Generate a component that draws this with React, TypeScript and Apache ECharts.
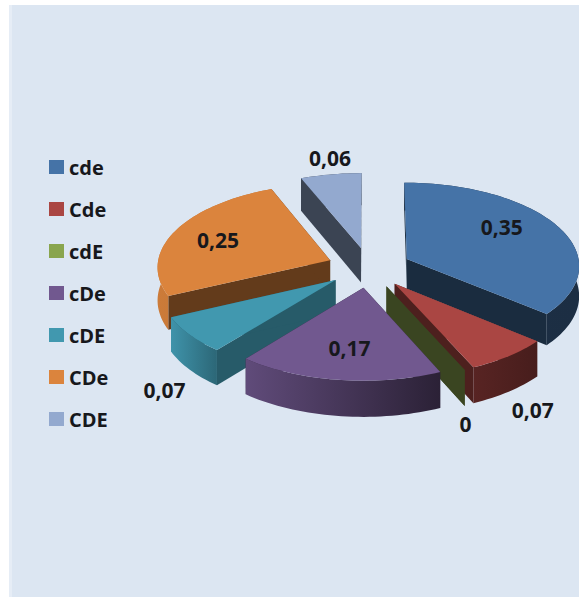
import React, { useEffect, useRef } from "react";
import * as echarts from "echarts";

// Genotype frequencies, in order around the pie.
const categories = ["cde", "Cde", "cdE", "cDe", "cDE", "CDe", "CDE"];
const values = [0.35, 0.07, 0, 0.17, 0.07, 0.25, 0.06];
const colors = ["#4573A7", "#AA4643", "#89A54E", "#71588F", "#4198AF", "#DB843D", "#93A9CF"];

// Back-to-front painting order of the exploded slices.
const paintOrder = [6, 0, 5, 1, 2, 4, 3];
// Brightness of the rim at its left and right end, and of the cut faces.
const rimShade = [[0.42, 0.4], [0.52, 0.42], [0.42, 0.42], [0.85, 0.38], [0.97, 0.68], [0.93, 0.85], [0.4, 0.4]];
const cutShade = [0.38, 0.45, 0.42, 0.4, 0.6, 0.45, 0.4];
// Extrusion height of each slice, in pixels.
const sliceDepth = [30, 33, 33, 33, 33, 33, 35];
// Value label offset from the slice apex, in pixels.
const labelOffsets = [[95, -32], [138, 126], [79, 138], [-14, 60], [-171, 110], [-112, -20], [-31, -90]];

const CX = 369;
const CY = 267.5;
const RADIUS = 173;
const EXPLODE = 42;
const TILT = 0.48;
const VIEW = 2400;

const total = values.reduce((a, b) => a + b, 0);
const startAngles: number[] = [];
values.reduce((acc, v, i) => {
  startAngles[i] = acc;
  return acc + (v / total) * Math.PI * 2;
}, 0);

// Ground-plane point to screen point, with a mild perspective.
function project(x: number, y: number, drop: number): number[] {
  const s = VIEW / (VIEW - y);
  return [CX + x * s, CY + TILT * y * s + drop * s];
}

function shade(hex: string, f: number): string {
  const n = parseInt(hex.slice(1), 16);
  const c = [(n >> 16) & 255, (n >> 8) & 255, n & 255].map((v) => Math.round(v * f));
  return `rgb(${c[0]},${c[1]},${c[2]})`;
}

function formatValue(v: number): string {
  return String(v).replace(".", ",");
}

function sliceRenderer(i: number) {
  return () => {
    const a0 = startAngles[i];
    const a1 = a0 + (values[i] / total) * Math.PI * 2;
    const mid = (a0 + a1) / 2;
    const ox = EXPLODE * Math.sin(mid);
    const oy = -EXPLODE * Math.cos(mid);
    const color = colors[i];
    const depth = sliceDepth[i];

    const top: number[][] = [];
    const bottom: number[][] = [];
    const steps = Math.max(1, Math.ceil((a1 - a0) / 0.03));
    for (let k = 0; k <= steps; k++) {
      const a = a0 + ((a1 - a0) * k) / steps;
      const gx = ox + RADIUS * Math.sin(a);
      const gy = oy - RADIUS * Math.cos(a);
      top.push(project(gx, gy, 0));
      bottom.push(project(gx, gy, depth));
    }
    const apexTop = project(ox, oy, 0);
    const apexBottom = project(ox, oy, depth);
    const cutFill = shade(color, cutShade[i]);
    const children: any[] = [];

    const cut = (edgeTop: number[], edgeBottom: number[]) => ({
      type: "polygon",
      silent: true,
      shape: { points: [apexTop, edgeTop, edgeBottom, apexBottom] },
      style: { fill: cutFill },
    });
    children.push(cut(top[0], bottom[0]));
    children.push(cut(top[steps], bottom[steps]));

    if (values[i] > 0) {
      children.push({
        type: "polygon",
        silent: true,
        shape: { points: [...top, ...bottom.slice().reverse()] },
        style: {
          fill: {
            type: "linear",
            x: 0,
            y: 0,
            x2: 1,
            y2: 0,
            colorStops: [
              { offset: 0, color: shade(color, rimShade[i][0]) },
              { offset: 1, color: shade(color, rimShade[i][1]) },
            ],
          },
        },
      });
      children.push({
        type: "polygon",
        silent: true,
        shape: { points: [apexTop, ...top] },
        style: { fill: color },
      });
    }

    children.push({
      type: "text",
      silent: true,
      z2: 100,
      style: {
        text: formatValue(values[i]),
        x: apexTop[0] + labelOffsets[i][0],
        y: apexTop[1] + labelOffsets[i][1],
        align: "center",
        verticalAlign: "middle",
        fill: "#17181c",
        font: "700 21px 'Open Sans'",
      },
    });
    return { type: "group", children };
  };
}

export default function App() {
  const ref = useRef<HTMLDivElement>(null);

  useEffect(() => {
    document.body.style.margin = "0";
    const chart = echarts.init(ref.current!, undefined, { renderer: "svg" });
    chart.setOption({
      animation: false,
      backgroundColor: "#ffffff",
      color: colors,
      graphic: [
        { type: "rect", z: -10, silent: true, shape: { x: 9, y: 5, width: 570, height: 592 }, style: { fill: "#DCE6F2" } },
        { type: "rect", z: -9, silent: true, shape: { x: 9, y: 5, width: 3, height: 592 }, style: { fill: "#E6EDF6" } },
      ],
      legend: {
        orient: "vertical",
        left: 49,
        top: 157,
        itemWidth: 15,
        itemHeight: 14,
        itemGap: 22,
        padding: 0,
        icon: "rect",
        selectedMode: false,
        data: categories,
        textStyle: { fontFamily: "Open Sans", fontWeight: 700, fontSize: 20, lineHeight: 20, color: "#17181c" },
      },
      series: paintOrder.map((i, order) => ({
        type: "custom",
        name: categories[i],
        coordinateSystem: "none",
        z: 2 + order,
        silent: true,
        itemStyle: { color: colors[i] },
        data: [values[i]],
        renderItem: sliceRenderer(i),
      })),
    });
    return () => chart.dispose();
  }, []);

  return <div ref={ref} style={{ width: 579, height: 597 }} />;
}
